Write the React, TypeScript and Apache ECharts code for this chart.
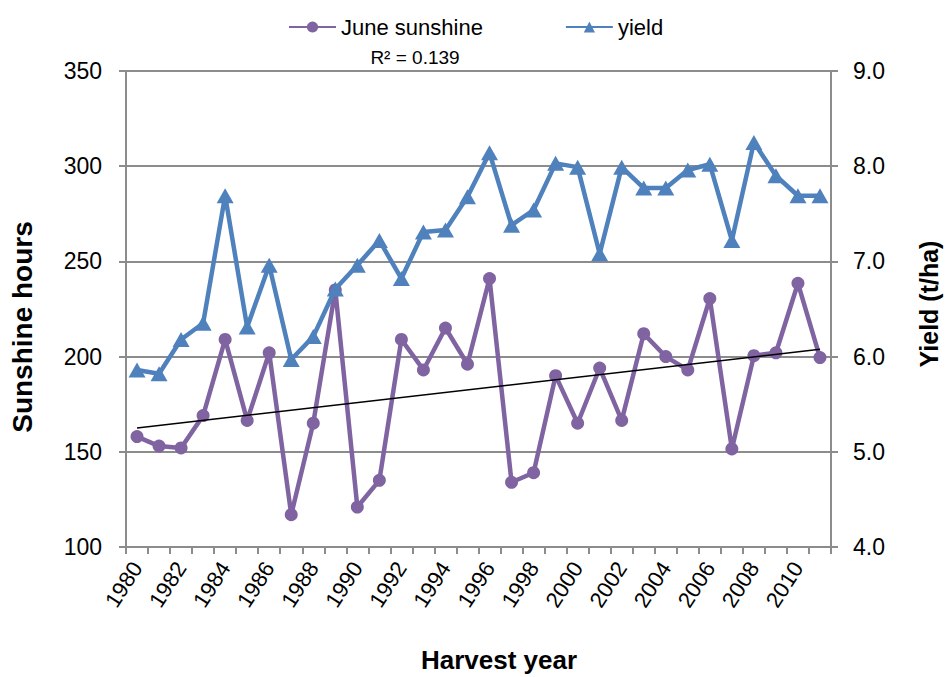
import React, { useEffect, useRef } from "react";
import * as echarts from "echarts";

const years = [
  "1980","1981","1982","1983","1984","1985","1986","1987","1988","1989",
  "1990","1991","1992","1993","1994","1995","1996","1997","1998","1999",
  "2000","2001","2002","2003","2004","2005","2006","2007","2008","2009",
  "2010","2011",
];

const juneSunshine = [
  158, 153, 152, 169, 209, 166.5, 202, 117, 165, 235,
  121, 135, 209, 193, 215, 196, 241, 134, 139, 190,
  165, 194, 166.5, 212, 200, 193, 230.5, 151.5, 200.5, 202,
  238.5, 199.5,
];

const yieldValues = [
  5.86, 5.82, 6.18, 6.35, 7.69, 6.31, 6.96, 5.97, 6.21, 6.71,
  6.96, 7.22, 6.82, 7.31, 7.33, 7.68, 8.14, 7.38, 7.54, 8.03,
  7.99, 7.08, 7.99, 7.77, 7.77, 7.96, 8.02, 7.22, 8.25, 7.90,
  7.69, 7.69,
];

// linear trendline of June sunshine, endpoints
const trendYears = ["1980", "2011"];
const trendValues = [162.5, 203.8];

const leftTicks = { min: 100, max: 350, interval: 50 };
const rightTicks = { min: 4, max: 9, interval: 1 };

const FONT = "'Liberation Sans', Arial, sans-serif";
const PURPLE = "#8064A2";
const BLUE = "#4F81BD";
const GRID = "#8C8C8C";

export default function App() {
  const ref = useRef<HTMLDivElement>(null);

  useEffect(() => {
    document.body.style.margin = "0";
    if (!ref.current) return;
    const chart = echarts.init(ref.current, null, { renderer: "svg" });
    const titleStyle = { fontFamily: FONT, fontWeight: "bold", fill: "#000", align: "center", verticalAlign: "middle" };
    chart.setOption({
      animation: false,
      textStyle: { fontFamily: FONT },
      grid: { left: 126, right: 115, top: 71, bottom: 130 },
      legend: {
        data: ["June sunshine", "yield"],
        left: 283,
        top: 11,
        itemWidth: 47,
        itemHeight: 14,
        itemGap: 82,
        textStyle: { fontSize: 22, color: "#000", fontFamily: FONT },
      },
      graphic: [
        {
          type: "text",
          x: 415,
          y: 57,
          style: {
            text: "R² = 0.139",
            fontSize: 19,
            fontFamily: FONT,
            fill: "#000",
            align: "center",
            verticalAlign: "middle",
          },
        },
        {
          type: "text",
          x: 499,
          y: 660,
          style: { ...titleStyle, text: "Harvest year", fontSize: 26 },
        },
        {
          type: "text",
          x: 22,
          y: 327,
          rotation: Math.PI / 2,
          style: { ...titleStyle, text: "Sunshine hours", fontSize: 28 },
        },
        {
          type: "text",
          x: 929,
          y: 304,
          rotation: Math.PI / 2,
          style: { ...titleStyle, text: "Yield (t/ha)", fontSize: 25 },
        },
      ],
      xAxis: {
        type: "category",
        data: years,
        boundaryGap: true,
        axisLine: { lineStyle: { color: GRID, width: 2 } },
        axisTick: { show: true, interval: 0, length: 7, lineStyle: { color: GRID, width: 2 } },
        axisLabel: {
          interval: 1,
          rotate: 57,
          fontSize: 22,
          color: "#000",
          margin: 17,
          fontFamily: FONT,
        },
        splitLine: { show: false },
      },
      yAxis: [
        {
          type: "value",
          min: leftTicks.min,
          max: leftTicks.max,
          interval: leftTicks.interval,
          axisLine: { show: true, lineStyle: { color: GRID, width: 2 } },
          axisTick: { show: true, length: 7, lineStyle: { color: GRID, width: 2 } },
          axisLabel: { fontSize: 23, color: "#000", margin: 24, fontFamily: FONT },
          splitLine: { show: true, lineStyle: { color: GRID, width: 2 } },
        },
        {
          type: "value",
          min: rightTicks.min,
          max: rightTicks.max,
          interval: rightTicks.interval,
          axisLine: { show: true, lineStyle: { color: GRID, width: 2 } },
          axisTick: { show: true, length: 7, lineStyle: { color: GRID, width: 2 } },
          axisLabel: {
            fontSize: 23,
            color: "#000",
            margin: 22,
            fontFamily: FONT,
            formatter: (v: number) => v.toFixed(1),
          },
          splitLine: { show: false },
        },
      ],
      series: [
        {
          name: "June sunshine",
          type: "line",
          yAxisIndex: 0,
          data: juneSunshine,
          symbol: "circle",
          symbolSize: 13,
          showAllSymbol: true,
          itemStyle: { color: PURPLE },
          lineStyle: { color: PURPLE, width: 4.5 },
          z: 2,
        },
        {
          name: "yield",
          type: "line",
          yAxisIndex: 1,
          data: yieldValues,
          symbol: "triangle",
          symbolSize: [17, 15],
          showAllSymbol: true,
          itemStyle: { color: BLUE },
          lineStyle: { color: BLUE, width: 4.5 },
          z: 3,
        },
        {
          name: "trend",
          type: "line",
          yAxisIndex: 0,
          data: trendYears.map((y, i) => [y, trendValues[i]]),
          symbol: "none",
          lineStyle: { color: "#000", width: 1.5 },
          z: 4,
          silent: true,
        },
      ],
    });
    return () => chart.dispose();
  }, []);

  return <div ref={ref} style={{ width: 946, height: 677 }} />;
}
